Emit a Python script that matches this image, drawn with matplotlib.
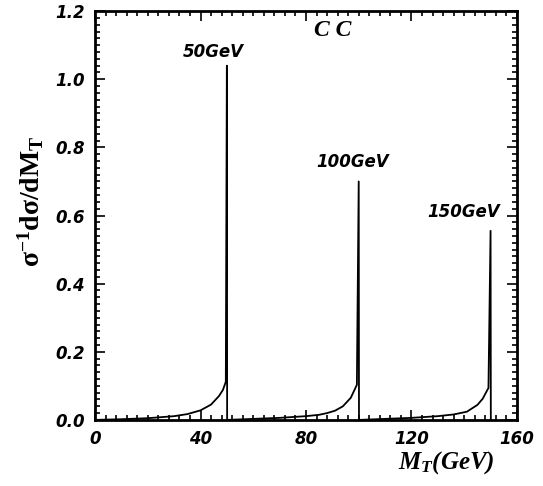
import matplotlib
matplotlib.use("Agg")
import matplotlib.pyplot as plt
from matplotlib.ticker import MultipleLocator

# transverse mass distributions (x in GeV)
mt_50 = [0, 10, 20, 30, 35, 40, 44, 47, 48.5, 49.6, 50.0, 50.1]
ds_50 = [0, 0.002, 0.005, 0.011, 0.017, 0.028, 0.045, 0.07, 0.088, 0.112, 1.04, 0]

mt_100 = [50.1, 60, 70, 80, 85, 88, 91, 94, 97, 99.3, 100.0, 100.1]
ds_100 = [0, 0.003, 0.006, 0.011, 0.015, 0.02, 0.027, 0.04, 0.065, 0.103, 0.70, 0]

mt_150 = [100.1, 110, 120, 130, 136, 141, 145, 147, 149.2, 150.0, 150.1]
ds_150 = [0, 0.003, 0.006, 0.011, 0.016, 0.024, 0.044, 0.062, 0.094, 0.555, 0]

peak_labels = ["50GeV", "100GeV", "150GeV"]
label_pos = [(44.7, 1.08), (97.6, 0.757), (139.9, 0.61)]

plt.rcParams['mathtext.fontset'] = 'custom'
plt.rcParams['mathtext.rm'] = 'Liberation Serif:bold'
plt.rcParams['mathtext.it'] = 'Liberation Serif:bold:italic'
plt.rcParams['mathtext.bf'] = 'Liberation Serif:bold'

fig = plt.figure(figsize=(5.43, 4.86), dpi=100)
ax = fig.add_axes([0.175, 0.136, 0.777, 0.841])

for xs, ys in [(mt_50, ds_50), (mt_100, ds_100), (mt_150, ds_150)]:
    ax.plot(xs, ys, color='black', lw=1.3)

ax.set_xlim(0, 160)
ax.set_ylim(0, 1.2)
ax.xaxis.set_major_locator(MultipleLocator(40))
ax.xaxis.set_minor_locator(MultipleLocator(4))
ax.yaxis.set_major_locator(MultipleLocator(0.2))
ax.yaxis.set_minor_locator(MultipleLocator(0.02))
ax.tick_params(which='both', direction='in', top=True, right=True, width=1.2)
ax.tick_params(which='major', length=7, pad=7)
ax.tick_params(which='minor', length=3.5)
for sp in ax.spines.values():
    sp.set_linewidth(2)

tick_font = dict(family='DejaVu Sans', weight='bold', style='italic', size=12)
ax.set_xticks([0, 40, 80, 120, 160])
ax.set_xticklabels(['0', '40', '80', '120', '160'], **tick_font)
yt = [0.0, 0.2, 0.4, 0.6, 0.8, 1.0, 1.2]
ax.set_yticks(yt)
ax.set_yticklabels([f"{v:.1f}" for v in yt], **tick_font)

for txt, (x, y) in zip(peak_labels, label_pos):
    ax.text(x, y, txt, ha='center', va='center', family='DejaVu Sans',
            weight='bold', style='italic', size=12)

ax.text(90, 1.144, "C C", ha='center', va='center', family='Liberation Serif',
        weight='bold', style='italic', size=17)

fig.text(0.056, 0.587, r'$\mathrm{\sigma^{-1}d\sigma/dM_T}$', rotation=90,
         ha='center', va='center', fontsize=20)
fig.text(0.912, 0.02, r'$M_T$(GeV)', ha='right', va='bottom', fontsize=18,
         family='Liberation Serif', weight='bold', style='italic')

fig.savefig("out.png", dpi=100)
